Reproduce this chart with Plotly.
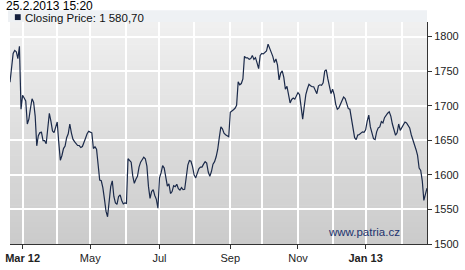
import plotly.graph_objects as go
import pandas as pd

# ---- data ----
start_date = "2012-02-20"
end_date = "2013-02-25"
close = [
    1734, 1760, 1775.5, 1780, 1778, 1768, 1786, 1695, 1715, 1711,
    1707, 1673.5, 1680.6, 1696, 1710, 1705, 1685, 1642, 1656.5, 1661,
    1661.5, 1649.5, 1649.5, 1645, 1665, 1689, 1677.8, 1663.6, 1661, 1668,
    1676.4, 1646.6, 1621, 1628, 1638, 1641.7, 1653.7, 1659.4, 1673.5, 1660.8,
    1651.6, 1648, 1644.5, 1642.4, 1642.4, 1639.5, 1641, 1646, 1653, 1659.4,
    1663, 1661.8, 1660.8, 1638, 1640.5, 1637, 1616, 1592.4, 1591.4, 1581.5,
    1565.2, 1547.5, 1539.4, 1557.4, 1582.9, 1591.4, 1568.7, 1559.5, 1557.4, 1568.7,
    1571.1, 1563, 1558, 1559.5, 1558.8, 1623.3, 1620.7, 1618.3, 1598.5, 1587.8,
    1593.5, 1597.8, 1611.2, 1618.3, 1621.8, 1625.4, 1623.3, 1612.6, 1582.9, 1565.9,
    1575.8, 1578.6, 1570.1, 1564.5, 1551.7, 1595.6, 1602.7, 1613.3, 1609.8, 1598.5,
    1583.6, 1587.1, 1573, 1575.8, 1584.3, 1582.9, 1586.4, 1580.1, 1578, 1581.5,
    1578.6, 1579, 1597, 1614, 1620.7, 1619.7, 1612, 1599.9, 1595.6, 1601.7,
    1608.8, 1611.2, 1611.2, 1615.5, 1619, 1616.9, 1604.1, 1597.8, 1604.8, 1615.5,
    1619, 1626.1, 1636.7, 1653.7, 1669.3, 1666.5, 1660.1, 1658, 1656.5, 1655.1,
    1690.5, 1693, 1694.1, 1696.2, 1700.4, 1734.4, 1730.2, 1732, 1738.7, 1771.3,
    1769.1, 1769.1, 1767, 1768, 1772.7, 1767, 1769.4, 1762, 1753.6, 1772.7,
    1775.5, 1774.8, 1776.9, 1779, 1789, 1783.3, 1778.3, 1771.3, 1762.3, 1767.7,
    1758.5, 1737.3, 1747.2, 1750.4, 1740.8, 1723.8, 1728.1, 1715.3, 1704, 1709,
    1711.1, 1709.4, 1715.3, 1718.9, 1716, 1693.4, 1680.6, 1699, 1716, 1724.5,
    1730.9, 1728.8, 1727.4, 1727.4, 1722.4, 1717.4, 1728.8, 1730.2, 1729.5, 1733,
    1750, 1751.9, 1738.7, 1729.2, 1717.4, 1723.8, 1716, 1701.9, 1694.8, 1696.9,
    1702.6, 1709, 1712.5, 1710.4, 1701.9, 1695.8, 1694.8, 1682, 1668.6, 1653.7,
    1650.9, 1657.5, 1658.4, 1660.1, 1662.2, 1661.5, 1665, 1677.8, 1686.3, 1669.3,
    1661.5, 1652.3, 1650.9, 1662.2, 1667.9, 1669.3, 1677.1, 1675, 1682.7, 1686.3,
    1689.1, 1691.2, 1684.9, 1673.5, 1664.3, 1657.2, 1660.8, 1673.5, 1664.3, 1667.9,
    1672.1, 1676.4, 1675, 1671.4, 1667.9, 1658, 1650.9, 1646.6, 1636.7, 1628.2,
    1609.8, 1606.3, 1591.4, 1563, 1574.4, 1580.7,
]
labeled_months = [(2012, 3), (2012, 5), (2012, 7), (2012, 9), (2012, 11), (2013, 1)]
tick_labels = ["<b>Mar 12</b>", "May", "Jul", "Sep", "Nov", "<b>Jan 13</b>"]
y_ticks = [1500, 1550, 1600, 1650, 1700, 1750, 1800]
header_text = "25.2.2013 15:20"
legend_text = "Closing Price: 1 580,70"
watermark = "www.patria.cz"

dates = pd.bdate_range(start_date, end_date)
n = min(len(dates), len(close))
dates = dates[:n]
close = close[:n]
x = list(range(n))

# first trading day of each month
month_first = {}
for i, d in enumerate(dates):
    key = (d.year, d.month)
    if key not in month_first:
        month_first[key] = i
month_first.pop((dates[0].year, dates[0].month), None)
major_vals = [month_first[k] for k in labeled_months if k in month_first]
minor_vals = [v for k, v in month_first.items() if k not in labeled_months]

FONT = "Arial, Liberation Sans, sans-serif"
LINE = "#1b2a4a"

fig = go.Figure()
fig.add_trace(go.Scatter(x=x, y=close, mode="lines",
                         line=dict(color=LINE, width=1.2),
                         showlegend=False, hoverinfo="skip"))

# gradient background bands for the plot area
shapes = []
nb = 40
top = (240, 240, 240)
bot = (203, 203, 203)
for k in range(nb):
    t = k / (nb - 1)
    c = tuple(round(top[j] + (bot[j] - top[j]) * t) for j in range(3))
    y1 = 1 - k / nb
    y0 = 1 - (k + 1) / nb - 0.003
    shapes.append(dict(type="rect", xref="x domain", yref="y domain",
                       x0=0, x1=1, y0=max(y0, 0), y1=y1, layer="below",
                       line=dict(width=0),
                       fillcolor="rgb(%d,%d,%d)" % c))

# legend band and square
W, H = 465, 270
L, R, T, B = 6, 30, 22, 20
pw, ph = W - L - R, H - T - B
def px(xp):
    return (xp - L) / pw
def py(yp):
    return (H - B - yp) / ph

shapes.append(dict(type="rect", xref="paper", yref="paper",
                   x0=px(4), x1=px(435), y0=py(22), y1=py(10),
                   line=dict(width=0), fillcolor="#eef1f4", layer="below"))
shapes.append(dict(type="rect", xref="paper", yref="paper",
                   x0=px(11), x1=px(17), y0=py(20), y1=py(14),
                   line=dict(width=0), fillcolor="#14203d"))

annotations = [
    dict(text=header_text, xref="paper", yref="paper", x=px(1), y=py(5.5),
         xanchor="left", yanchor="middle", showarrow=False, borderpad=0,
         font=dict(family=FONT, size=12, color="#000000")),
    dict(text=legend_text, xref="paper", yref="paper", x=px(20), y=py(17.5),
         xanchor="left", yanchor="middle", showarrow=False, borderpad=0,
         font=dict(family=FONT, size=11.5, color="#111111")),
    dict(text=watermark, xref="paper", yref="paper", x=px(331), y=py(237.5),
         xanchor="left", yanchor="middle", showarrow=False,
         font=dict(family=FONT, size=11.5, color="#22336e")),
]

fig.update_layout(
    width=W, height=H,
    margin=dict(l=L, r=R, t=T, b=B, pad=0),
    paper_bgcolor="white",
    plot_bgcolor="rgba(0,0,0,0)",
    shapes=shapes,
    annotations=annotations,
    font=dict(family=FONT, size=11, color="#222222"),
    xaxis=dict(
        range=[0, n - 1],
        tickmode="array", tickvals=major_vals, ticktext=tick_labels,
        ticks="outside", ticklen=4, tickcolor="#333333",
        showgrid=True, gridcolor="white", gridwidth=1.5,
        minor=dict(tickmode="array", tickvals=minor_vals, showgrid=True,
                   gridcolor="white", gridwidth=1.5, ticks=""),
        showline=True, linecolor="#333333", linewidth=1,
        zeroline=False, fixedrange=True,
        tickfont=dict(family=FONT, size=11, color="#222222"),
    ),
    yaxis=dict(
        side="right",
        range=[1500, 1821],
        tickmode="array", tickvals=y_ticks,
        ticks="outside", ticklen=4, tickcolor="#333333",
        showgrid=True, gridcolor="white", gridwidth=1.5,
        showline=True, linecolor="#333333", linewidth=1,
        zeroline=False, fixedrange=True,
        tickfont=dict(family=FONT, size=11, color="#222222"),
    ),
)

fig.write_html("out.html")
